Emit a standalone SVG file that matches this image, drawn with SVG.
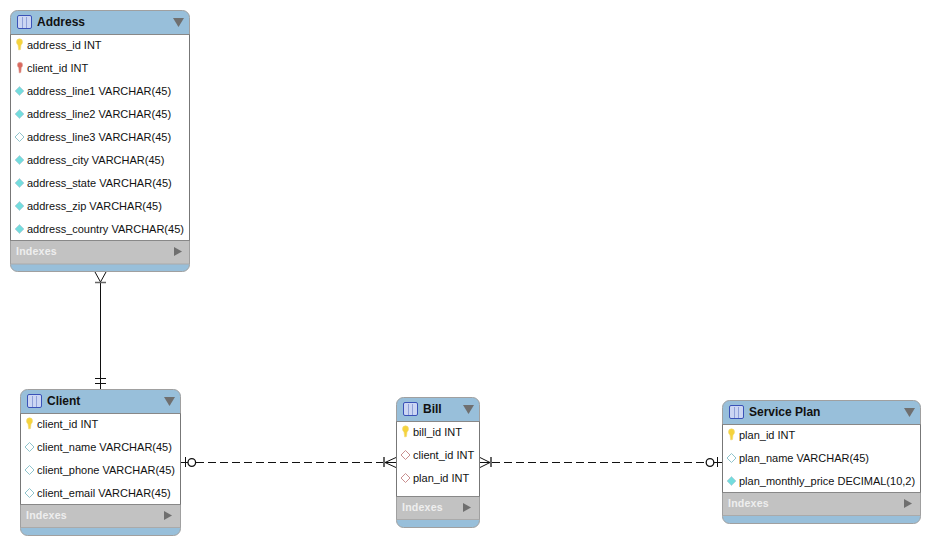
<svg xmlns="http://www.w3.org/2000/svg" width="930" height="545" viewBox="0 0 930 545">
<style>
text{font-family:"Liberation Sans",Arial,sans-serif;font-size:11px;fill:#111}
.title{font-weight:bold;font-size:12px;fill:#111}
.idx{font-weight:bold;font-size:10.6px;fill:#eee;letter-spacing:.2px}
.frame{fill:#98bfda;stroke:#a0a0a0;stroke-width:1}
.body{fill:#fff}
.bar{fill:#c2c2c2}
.sep{stroke:#888;stroke-width:1;fill:none}
.sep2{stroke:#aaa;stroke-width:1;fill:none}
.side{stroke:#777;stroke-width:1;fill:none}
.tri{fill:#6f6f6f}
.c{fill:none;stroke:#111;stroke-width:1}
.t{fill:none;stroke:#666;stroke-width:2}
</style>
<defs>
<g id="tbl"><rect x="0.5" y="0.5" width="14" height="13" rx="1.5" fill="#ccd6f3" stroke="#3a52b8"/><path d="M5.500 2V13M9.500 2V13" stroke="#8fa0d8" fill="none"/></g>
<g id="keyY"><path d="M-3-3a3 3.200 0 0 1 6 0c0 1.700-1 2.400-1.500 3L1 4.500-.8 5-1.500 0C-2 -.6-3-1.300-3-3z" fill="#f5d33c" stroke="#f0d878" stroke-width=".6"/></g>
<g id="keyR"><path d="M-2.600-3a2.600 2.800 0 0 1 5.200 0c0 1.500-.8 2.200-1.300 2.800L.9 4.500-.8 5-1.300-.2c-.5-.6-1.300-1.300-1.300-2.800z" fill="#d9695f" stroke="#e0a89f" stroke-width=".6"/></g>
<path id="dF" d="M0-4.500L4.500 0 0 4.500-4.500 0z" fill="#74dcdd" stroke="#b5d6de" stroke-width="1"/>
<path id="dE" d="M0-4.500L4.500 0 0 4.500-4.500 0z" fill="#fff" stroke="#8fc4cc" stroke-width="1"/>
<path id="dP" d="M0-4.500L4.500 0 0 4.500-4.500 0z" fill="#fff" stroke="#c98f8f" stroke-width="1"/>
</defs>

<g id="connectors">
<path class="c" d="M100.500 282V389"/>
<path class="c" d="M95 272L100.500 282L106 272"/>
<path class="t" d="M95 282.500H106" style="stroke-width:1.500"/>
<path class="c" d="M95 378.500H106M95 383.500H106"/>
<path class="c" d="M181 462.500H188"/>
<path class="c" d="M185.500 457V467"/>
<circle class="c" cx="191.800" cy="462.500" r="3.800" style="stroke-width:1.300"/>
<path class="c" d="M196 462.500H384" stroke-dasharray="8 4"/>
<path class="t" d="M384 457V467"/>
<path class="c" d="M396 457.500L385 462.500L396 467.500M385 462.500H396"/>
<path class="c" d="M480 457.500L490 462.500L480 467.500M480 462.500H491"/>
<path class="t" d="M491 457V467"/>
<path class="c" d="M492 462.500H706" stroke-dasharray="8 4"/>
<circle class="c" cx="710" cy="462.500" r="3.800" style="stroke-width:1.300"/>
<path class="c" d="M714 462.500H722M717.500 457V467"/>
</g>

<g id="address">
<rect class="frame" x="10.500" y="10.500" width="179" height="261" rx="7"/>
<rect class="body" x="11" y="34" width="178" height="206"/>
<rect class="bar" x="11" y="241" width="178" height="23"/>
<path class="sep" d="M10.500 34.500H189.500M10.500 240.500H189.500"/>
<path class="sep2" d="M10.500 264H189.500"/>
<path class="side" d="M10.500 34.500V240.500M189.500 34.500V240.500"/>
<use href="#tbl" x="17" y="15"/>
<text class="title" x="37" y="26">Address</text>
<path class="tri" d="M173 18H184L178.500 27z"/>
<use href="#keyY" x="19.500" y="45"/><text x="27" y="49">address_id INT</text>
<use href="#keyR" x="20" y="68"/><text x="27" y="72">client_id INT</text>
<use href="#dF" x="19.500" y="91"/><text x="27" y="95">address_line1 VARCHAR(45)</text>
<use href="#dF" x="19.500" y="114"/><text x="27" y="118">address_line2 VARCHAR(45)</text>
<use href="#dE" x="19.500" y="137"/><text x="27" y="141">address_line3 VARCHAR(45)</text>
<use href="#dF" x="19.500" y="160"/><text x="27" y="164">address_city VARCHAR(45)</text>
<use href="#dF" x="19.500" y="183"/><text x="27" y="187">address_state VARCHAR(45)</text>
<use href="#dF" x="19.500" y="206"/><text x="27" y="210">address_zip VARCHAR(45)</text>
<use href="#dF" x="19.500" y="229"/><text x="27" y="233">address_country VARCHAR(45)</text>
<text class="idx" x="16" y="255">Indexes</text>
<path class="tri" d="M174 247L182 251.500L174 256z"/>
</g>

<g id="client">
<rect class="frame" x="20.500" y="389.500" width="160" height="146" rx="7"/>
<rect class="body" x="21" y="413" width="159" height="91"/>
<rect class="bar" x="21" y="505" width="159" height="22"/>
<path class="sep" d="M20.500 413.500H180.500M20.500 504.500H180.500"/>
<path class="sep2" d="M20.500 527.500H180.500"/>
<path class="side" d="M20.500 413.500V504.500M180.500 413.500V504.500"/>
<use href="#tbl" x="27" y="394"/>
<text class="title" x="47" y="405">Client</text>
<path class="tri" d="M164 397H175L169.500 406z"/>
<use href="#keyY" x="29.500" y="424"/><text x="37" y="428">client_id INT</text>
<use href="#dE" x="29.500" y="447"/><text x="37" y="451">client_name VARCHAR(45)</text>
<use href="#dE" x="29.500" y="470"/><text x="37" y="474">client_phone VARCHAR(45)</text>
<use href="#dE" x="29.500" y="493"/><text x="37" y="497">client_email VARCHAR(45)</text>
<text class="idx" x="26" y="519">Indexes</text>
<path class="tri" d="M164 511L172 515.500L164 520z"/>
</g>

<g id="bill">
<rect class="frame" x="396.500" y="397.500" width="83" height="130" rx="7"/>
<rect class="body" x="397" y="421" width="82" height="75"/>
<rect class="bar" x="397" y="497" width="82" height="22"/>
<path class="sep" d="M396.500 421.500H479.500M396.500 496.500H479.500"/>
<path class="sep2" d="M396.500 519.500H479.500"/>
<path class="side" d="M396.500 421.500V496.500M479.500 421.500V496.500"/>
<use href="#tbl" x="403" y="402"/>
<text class="title" x="423" y="413">Bill</text>
<path class="tri" d="M463 405H474L468.500 414z"/>
<use href="#keyY" x="405.500" y="432"/><text x="413" y="436">bill_id INT</text>
<use href="#dP" x="405.500" y="455"/><text x="413" y="459">client_id INT</text>
<use href="#dP" x="405.500" y="478"/><text x="413" y="482">plan_id INT</text>
<text class="idx" x="402" y="511">Indexes</text>
<path class="tri" d="M463 503L471 507.500L463 512z"/>
</g>

<g id="service-plan">
<rect class="frame" x="722.500" y="400.500" width="198" height="123" rx="7"/>
<rect class="body" x="723" y="424" width="197" height="68"/>
<rect class="bar" x="723" y="493" width="197" height="22"/>
<path class="sep" d="M722.500 424.500H920.500M722.500 492.500H920.500"/>
<path class="sep2" d="M722.500 515.500H920.500"/>
<path class="side" d="M722.500 424.500V492.500M920.500 424.500V492.500"/>
<use href="#tbl" x="729" y="405"/>
<text class="title" x="749" y="416">Service Plan</text>
<path class="tri" d="M904 408H915L909.500 417z"/>
<use href="#keyY" x="731.500" y="435"/><text x="739" y="439">plan_id INT</text>
<use href="#dE" x="731.500" y="458"/><text x="739" y="462">plan_name VARCHAR(45)</text>
<use href="#dF" x="731.500" y="481"/><text x="739" y="485">plan_monthly_price DECIMAL(10,2)</text>
<text class="idx" x="728" y="507">Indexes</text>
<path class="tri" d="M904 499L912 503.500L904 508z"/>
</g>
</svg>
